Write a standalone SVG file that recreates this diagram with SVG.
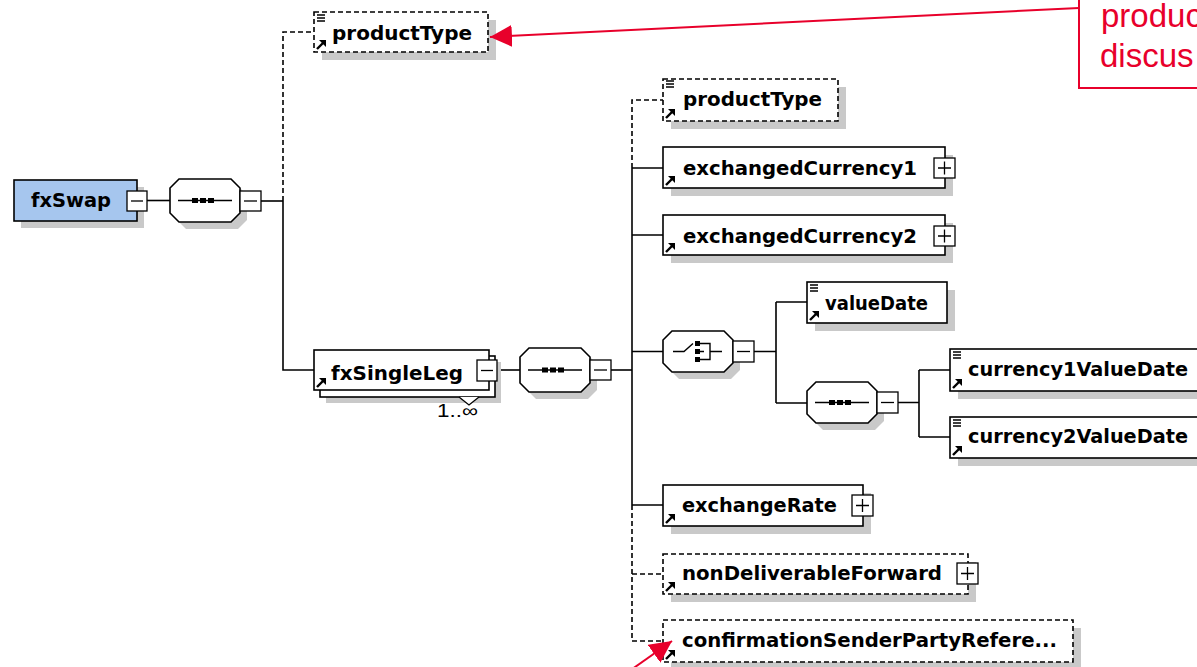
<svg xmlns="http://www.w3.org/2000/svg" xmlns:xlink="http://www.w3.org/1999/xlink" width="1197" height="667" viewBox="0 0 1197 667">
<style>
.bg{fill:#ffffff}
.sh{fill:#c9c9c9;stroke:none}
.box{fill:#ffffff;stroke:#000;stroke-width:1.6}
.opt{fill:#ffffff;stroke:#000;stroke-width:1.6;stroke-dasharray:5 3}
.root{fill:#a6c6ee;stroke:#000;stroke-width:1.6}
.btn{fill:#ffffff;stroke:#000;stroke-width:1.3}
.pm{stroke:#000;stroke-width:1.3;fill:none}
.lbl{font-family:"DejaVu Sans","Liberation Sans",sans-serif;font-weight:bold;font-size:19px;fill:#000}
.card{font-family:"Liberation Sans",Arial,sans-serif;font-size:18px;fill:#000}
.con{stroke:#000;stroke-width:1.6;fill:none}
.dcon{stroke:#000;stroke-width:1.6;fill:none;stroke-dasharray:5 3}
.ico{stroke:#000;stroke-width:1.4;fill:none}
.sq{fill:#000}
.red{stroke:#e8002b;stroke-width:2;fill:none}
.redtxt{font-family:"Liberation Sans",Arial,sans-serif;font-size:33px;fill:#e8002b}
</style>
<defs>
<g id="refArrow">
<path d="M3,-3 L9,-9" stroke="#000" stroke-width="2.4" fill="none"/>
<polygon points="12,-12 5,-12 12,-5" fill="#000"/>
</g>
<g id="simple">
<path d="M3,3 H11 M3,6 H11 M3,9 H11" stroke="#000" stroke-width="1.4" fill="none"/>
</g>
<marker id="redHead" markerUnits="userSpaceOnUse" markerWidth="24" markerHeight="22" refX="22" refY="11" orient="auto">
<path d="M0,0 L22,11 L0,22 Z" fill="#e8002b"/>
</marker>
</defs>
<rect class="bg" x="0" y="0" width="1197" height="667"/>

<g id="connectors">
<path class="con" d="M147,200.5 H170"/>
<path class="con" d="M261,201 H283"/>
<path class="dcon" d="M283,201 V32 H314"/>
<path class="con" d="M283,201 V370 H314"/>
<path class="con" d="M497,370 H520"/>
<path class="con" d="M611,370 H632"/>
<path class="dcon" d="M632,168 V100 H663"/>
<path class="con" d="M632,168 V505"/>
<path class="con" d="M632,168 H663 M632,235 H663 M632,351.5 H663 M632,505 H663"/>
<path class="dcon" d="M632,505 V641 H663 M632,574 H663"/>
<path class="con" d="M754,351.5 H776 M776,302 V403 M776,302 H807 M776,403 H807"/>
<path class="con" d="M898,402.5 H919 M919,370 V437 M919,370 H950 M919,437 H950"/>
</g>

<g id="fxSwap">
<rect class="sh" x="21" y="187" width="123" height="41"/>
<rect class="root" x="14" y="180" width="123" height="41"/>
<text class="lbl" x="31" y="207" textLength="80" lengthAdjust="spacingAndGlyphs">fxSwap</text>
<rect class="btn" x="127" y="191" width="20" height="20"/>
<path class="pm" d="M131,201 H143"/>
</g>

<g id="seq1">
<path class="sh" d="M186,186 H238 L247,195 V220 L238,229 H186 L177,220 V195 Z"/>
<path class="box" d="M179,179 H231 L240,188 V213 L231,222 H179 L170,213 V188 Z"/>
<path class="ico" d="M178,200.5 H232"/>
<rect class="sq" x="192" y="198" width="6" height="5"/>
<rect class="sq" x="200" y="198" width="6" height="5"/>
<rect class="sq" x="208" y="198" width="6" height="5"/>
<rect class="btn" x="240" y="191" width="21" height="20"/>
<path class="pm" d="M244,201 H257"/>
</g>

<g id="productType-top">
<rect class="sh" x="322" y="20" width="174" height="40"/>
<rect class="opt" x="314" y="12" width="174" height="40"/>
<use xlink:href="#simple" x="314" y="12"/>
<use xlink:href="#refArrow" x="314" y="52"/>
<text class="lbl" x="332" y="40" textLength="140" lengthAdjust="spacingAndGlyphs">productType</text>
</g>

<g id="fxSingleLeg">
<rect class="sh" x="326" y="362" width="175" height="41"/>
<rect class="box" x="320" y="356" width="175" height="41"/>
<rect class="box" x="314" y="350" width="175" height="40"/>
<use xlink:href="#refArrow" x="314" y="390"/>
<text class="lbl" x="331" y="380" textLength="132" lengthAdjust="spacingAndGlyphs">fxSingleLeg</text>
<rect class="btn" x="477" y="360" width="20" height="21"/>
<path class="pm" d="M481,370.5 H493"/>
<path d="M459,397 L469,405 L479,397" stroke="#000" stroke-width="1.3" fill="#ffffff"/>
<text class="card" x="437" y="417" textLength="41" lengthAdjust="spacingAndGlyphs">1..∞</text>
</g>

<g id="seq2">
<path class="sh" d="M536,355 H588 L597,364 V390 L588,399 H536 L527,390 V364 Z"/>
<path class="box" d="M529,348 H581 L590,357 V383 L581,392 H529 L520,383 V357 Z"/>
<path class="ico" d="M528,370 H582"/>
<rect class="sq" x="542" y="367.5" width="6" height="5"/>
<rect class="sq" x="550" y="367.5" width="6" height="5"/>
<rect class="sq" x="558" y="367.5" width="6" height="5"/>
<rect class="btn" x="590" y="360" width="21" height="20"/>
<path class="pm" d="M594,370 H607"/>
</g>

<g id="productType">
<rect class="sh" x="671" y="87" width="175" height="42"/>
<rect class="opt" x="663" y="79" width="175" height="42"/>
<use xlink:href="#simple" x="663" y="78"/>
<use xlink:href="#refArrow" x="663" y="121"/>
<text class="lbl" x="683" y="106" textLength="139" lengthAdjust="spacingAndGlyphs">productType</text>
</g>

<g id="exchangedCurrency1">
<rect class="sh" x="671" y="155" width="282" height="41"/>
<rect class="box" x="663" y="147" width="282" height="41"/>
<use xlink:href="#refArrow" x="663" y="188"/>
<text class="lbl" x="683" y="175" textLength="234" lengthAdjust="spacingAndGlyphs">exchangedCurrency1</text>
<rect class="btn" x="934" y="158" width="21" height="20"/>
<path class="pm" d="M938,168 H951 M944.5,161.5 V174.5"/>
</g>

<g id="exchangedCurrency2">
<rect class="sh" x="671" y="223" width="282" height="40"/>
<rect class="box" x="663" y="215" width="282" height="40"/>
<use xlink:href="#refArrow" x="663" y="255"/>
<text class="lbl" x="683" y="243" textLength="234" lengthAdjust="spacingAndGlyphs">exchangedCurrency2</text>
<rect class="btn" x="934" y="226" width="21" height="20"/>
<path class="pm" d="M938,236 H951 M944.5,229.5 V242.5"/>
</g>

<g id="choice">
<path class="sh" d="M679,338 H731 L740,347 V370 L731,379 H679 L670,370 V347 Z"/>
<path class="box" d="M672,331 H724 L733,340 V363 L724,372 H672 L663,363 V340 Z"/>
<path class="ico" d="M673,351.5 H684 L693,343.5"/>
<rect class="sq" x="695" y="341" width="5" height="5"/>
<rect class="sq" x="695" y="349" width="5" height="5"/>
<rect class="sq" x="695" y="357" width="5" height="5"/>
<path class="ico" d="M700,343.5 H710 V359.5 H700 M700,351.5 H704 M710,351.5 H722"/>
<rect class="btn" x="733" y="341" width="21" height="21"/>
<path class="pm" d="M737,351.5 H750"/>
</g>

<g id="valueDate">
<rect class="sh" x="815" y="290" width="140" height="41"/>
<rect class="box" x="807" y="282" width="140" height="41"/>
<use xlink:href="#simple" x="807" y="282"/>
<use xlink:href="#refArrow" x="807" y="323"/>
<text class="lbl" x="825" y="310" textLength="103" lengthAdjust="spacingAndGlyphs">valueDate</text>
</g>

<g id="seq3">
<path class="sh" d="M823,389 H875 L884,398 V421 L875,430 H823 L814,421 V398 Z"/>
<path class="box" d="M816,382 H868 L877,391 V414 L868,423 H816 L807,414 V391 Z"/>
<path class="ico" d="M815,402.5 H869"/>
<rect class="sq" x="829" y="400" width="6" height="5"/>
<rect class="sq" x="837" y="400" width="6" height="5"/>
<rect class="sq" x="845" y="400" width="6" height="5"/>
<rect class="btn" x="877" y="392" width="21" height="21"/>
<path class="pm" d="M881,402.5 H894"/>
</g>

<g id="currency1ValueDate">
<rect class="sh" x="958" y="357" width="260" height="42"/>
<rect class="box" x="950" y="349" width="260" height="42"/>
<use xlink:href="#simple" x="950" y="349"/>
<use xlink:href="#refArrow" x="950" y="391"/>
<text class="lbl" x="968" y="376" textLength="220" lengthAdjust="spacingAndGlyphs">currency1ValueDate</text>
</g>

<g id="currency2ValueDate">
<rect class="sh" x="958" y="425" width="260" height="41"/>
<rect class="box" x="950" y="417" width="260" height="41"/>
<use xlink:href="#simple" x="950" y="417"/>
<use xlink:href="#refArrow" x="950" y="458"/>
<text class="lbl" x="968" y="443" textLength="220" lengthAdjust="spacingAndGlyphs">currency2ValueDate</text>
</g>

<g id="exchangeRate">
<rect class="sh" x="671" y="493" width="200" height="41"/>
<rect class="box" x="663" y="485" width="200" height="41"/>
<use xlink:href="#refArrow" x="663" y="526"/>
<text class="lbl" x="682" y="512" textLength="155" lengthAdjust="spacingAndGlyphs">exchangeRate</text>
<rect class="btn" x="852" y="495" width="21" height="21"/>
<path class="pm" d="M856,505.5 H869 M862.5,499 V512"/>
</g>

<g id="nonDeliverableForward">
<rect class="sh" x="671" y="562" width="305" height="40"/>
<rect class="opt" x="663" y="554" width="305" height="40"/>
<use xlink:href="#refArrow" x="663" y="594"/>
<text class="lbl" x="682" y="580" textLength="260" lengthAdjust="spacingAndGlyphs">nonDeliverableForward</text>
<rect class="btn" x="957" y="563" width="21" height="21"/>
<path class="pm" d="M961,573.5 H974 M967.5,567 V580"/>
</g>

<g id="confirmationSenderPartyReference">
<rect class="sh" x="671" y="628" width="410" height="42"/>
<rect class="opt" x="663" y="620" width="410" height="42"/>
<use xlink:href="#refArrow" x="663" y="662"/>
<text class="lbl" x="682" y="647" textLength="375" lengthAdjust="spacingAndGlyphs">confirmationSenderPartyRefere...</text>
</g>

<g id="annotation">
<rect class="red" x="1079" y="-10" width="200" height="98"/>
<text class="redtxt" x="1101" y="27">produc</text>
<text class="redtxt" x="1100" y="67">discus</text>
<line class="red" x1="1079" y1="8" x2="490" y2="37" marker-end="url(#redHead)"/>
<line class="red" x1="628" y1="672" x2="672" y2="641" marker-end="url(#redHead)"/>
</g>
</svg>
